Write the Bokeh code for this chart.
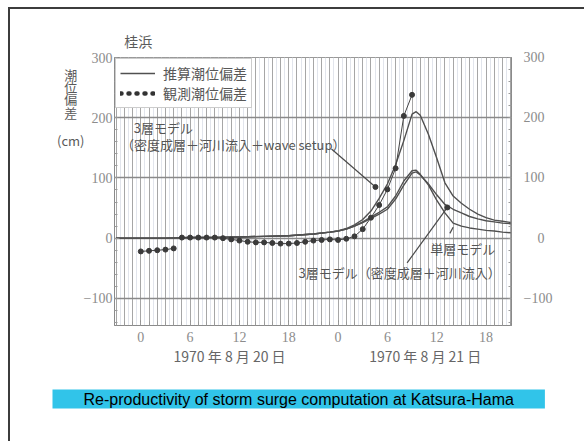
import numpy as np
from bokeh.plotting import figure
from bokeh.models import (FixedTicker, Label, Legend, LegendItem, LinearAxis,
                          Range1d, Title)
from bokeh.embed import file_html
from bokeh.resources import INLINE

# ---------------- data ----------------
# computed (common part before the surge), hour of 1970-08-20 (24 = 0h of 08-21)
hours_base = [-3, 0, 3, 6, 9, 12, 15, 18, 21, 23]
base_vals = [0, 0, 0, 1, 1, 2, 3, 4, 7, 10]

hours_peak = [24, 25, 26, 27, 28, 29, 30, 31, 32, 33, 33.5, 34, 35, 36, 37, 38,
              39, 40, 41, 42, 43, 44, 45]
wave_setup = [12, 16, 22, 31, 45, 66, 90, 122, 162, 206, 210, 204, 172, 133, 92,
              70, 58, 48, 40, 34, 30, 28, 26]
three_layer = [12, 15, 20, 26, 33, 40, 48, 65, 88, 108, 110, 105, 90, 72, 56, 48,
               42, 36, 32, 29, 27, 25, 24]
single_layer = [12, 15, 20, 27, 35, 43, 52, 70, 95, 112, 113, 106, 88, 63, 42, 25,
                20, 17, 15, 13, 12, 10, 9]

obs_hours = list(range(0, 34))
obs_vals = [-22, -21, -20, -19, -17,
            1, 1, 1, 1, 1, 0, -2, -4, -6, -7, -7, -8, -9, -9, -8, -6, -4, -3, -2,
            -3, -1, 3, 15, 34, 55, 81, 116, 203, 238]

x_tick_pos = [0, 6, 12, 18, 24, 30, 36, 42]
x_tick_txt = ["0", "6", "12", "18", "0", "6", "12", "18"]
y_ticks = [-100, 0, 100, 200, 300]
date_pos = [10.8, 34.6]
date_txt = ["1970 年 8 月 20 日", "1970 年 8 月 21 日"]
caption = "Re-productivity of storm surge computation at Katsura-Hama"

# annotation anchors (hour, cm)
lead1 = ([23.2, 28.55], [148, 85])
lead2 = ([32.4, 37.3], [-41, 51])
lead3 = ([37.6, 38.0], [8, 18])

GRAY_TXT = "#555555"
LINE_C = "#505050"
JP = "Noto Sans CJK JP"
FRAME = "#3c3c3c"

p = figure(width=584, height=441, x_range=Range1d(-3.2, 45.1),
           y_range=Range1d(-145, 300), output_backend="svg",
           toolbar_location=None, min_border_left=114, min_border_right=73,
           min_border_top=57, min_border_bottom=116)
p.background_fill_color = "white"
p.border_fill_color = None
p.outline_line_color = "#999999"
p.styles = {
    "background-image": f"linear-gradient({FRAME}, {FRAME}), linear-gradient({FRAME}, {FRAME})",
    "background-size": "576px 2px, 2px 434px",
    "background-position": "8px 7px, 8px 7px",
    "background-repeat": "no-repeat",
}

# grids
all_hours = list(range(-3, 46))
p.xgrid[0].ticker = FixedTicker(ticks=all_hours,
                                minor_ticks=[h + 0.5 for h in all_hours])
p.xgrid.grid_line_color = "#a6a6a6"
p.xgrid.grid_line_width = 1
p.xgrid.minor_grid_line_color = "#e2e5ec"
p.ygrid[0].ticker = FixedTicker(ticks=y_ticks)
p.ygrid.grid_line_color = "#8a8a8a"
p.ygrid.grid_line_width = 1.3

# axes
def style_axis(ax):
    ax.axis_line_color = "#8a8a8a"
    ax.major_tick_line_color = "#8a8a8a"
    ax.minor_tick_line_color = "#9a9a9a"
    ax.major_label_text_font = "Liberation Serif"
    ax.major_label_text_font_size = "14px"
    ax.major_label_text_color = "#8c8c8c"
    ax.major_tick_out = 0
    ax.minor_tick_out = 0

def text_axis(ax, size, color=GRAY_TXT):
    ax.axis_line_color = None
    ax.major_tick_line_color = None
    ax.minor_tick_line_color = None
    ax.major_label_text_font = JP
    ax.major_label_text_font_size = size
    ax.major_label_text_color = color

xa = p.xaxis[0]
xa.ticker = FixedTicker(ticks=x_tick_pos, minor_ticks=all_hours)
xa.major_label_overrides = {k: v for k, v in zip(x_tick_pos, x_tick_txt)}
style_axis(xa)
xa.major_tick_in = 5
xa.minor_tick_in = 4
xa.major_label_standoff = 6

ya = p.yaxis[0]
ya.ticker = FixedTicker(ticks=y_ticks, minor_ticks=list(range(-140, 301, 20)))
style_axis(ya)
ya.major_tick_in = 5
ya.minor_tick_in = 3
ya.major_label_standoff = 2

yr = LinearAxis(ticker=FixedTicker(ticks=y_ticks,
                                   minor_ticks=list(range(-140, 301, 20))))
style_axis(yr)
yr.major_tick_in = 5
yr.minor_tick_in = 3
yr.major_label_standoff = 12
yr.major_label_overrides = {0: "\u2007\u20070"}
p.add_layout(yr, "right")

# date labels as a second bottom axis
xd = LinearAxis(ticker=FixedTicker(ticks=date_pos),
                major_label_overrides={k: v for k, v in zip(date_pos, date_txt)})
text_axis(xd, "14px", "#666666")
xd.major_label_standoff = -5
p.add_layout(xd, "below")

# station name as a top axis
station_pos = [-0.3]
xt = LinearAxis(ticker=FixedTicker(ticks=station_pos),
                major_label_overrides={station_pos[0]: "桂浜"})
text_axis(xt, "14px", "#5a5a5a")
xt.major_label_standoff = 1
p.add_layout(xt, "above")

# y label (vertical characters + unit) as a second left axis
ylab_pos = [272.6, 251.8, 231.1, 209.5, 162.2]
ylab_txt = ["潮\u2007", "位\u2007", "偏\u2007", "差\u2007", "(cm)"]
yl = LinearAxis(ticker=FixedTicker(ticks=ylab_pos),
                major_label_overrides={k: v for k, v in zip(ylab_pos, ylab_txt)})
text_axis(yl, "13px", "#5a5a5a")
yl.major_label_standoff = -10
p.add_layout(yl, "left")

# computed curves
r_lines = []
for vals in (wave_setup, three_layer, single_layer):
    r_lines.append(p.line(hours_base + hours_peak, base_vals + vals,
                          line_color=LINE_C, line_width=1.4))

# observed
p.line(obs_hours[:5], obs_vals[:5], line_color="#444444", line_width=1)
p.line(obs_hours[5:], obs_vals[5:], line_color="#444444", line_width=1)
p.scatter(obs_hours, obs_vals, size=5, color="#3a3a3a")

# leader lines
for lx, ly in (lead1, lead2, lead3):
    p.line(lx, ly, line_color="#4a4a4a", line_width=1.2)
p.scatter([lead1[0][1], lead2[0][1]], [lead1[1][1], lead2[1][1]], size=5,
          color="#3a3a3a")

# legend (dotted sample for the observed series)
nan2 = [np.nan, np.nan]
r_obs = p.line(nan2, nan2, line_color="#333333", line_width=4.5,
               line_dash="1 7", line_cap="round")
legend = Legend(items=[LegendItem(label="推算潮位偏差", renderers=[r_lines[0]]),
                       LegendItem(label="観測潮位偏差", renderers=[r_obs])],
                location="top_left", margin=1, padding=4, spacing=0,
                glyph_width=35, glyph_height=14, label_height=14,
                label_standoff=8, label_text_font=JP,
                label_text_font_size="14px", label_text_color="#585858",
                border_line_color="#9a9a9a", background_fill_color="white",
                background_fill_alpha=1)
p.add_layout(legend)

# in-plot texts
def dlabel(x, y, t, size="13px"):
    p.add_layout(Label(x=x, y=y, text=t, text_font=JP, text_font_size=size,
                       text_color=GRAY_TXT, text_baseline="middle",
                       text_align="left"))

dlabel(-0.85, 183, "3層モデル")
dlabel(-2.4, 156, "（密度成層＋河川流入＋wave setup）")
dlabel(35.2, -17.5, "単層モデル")
dlabel(19.2, -57, "3層モデル（密度成層＋河川流入）", "13px")

# caption strip as a bottom title with a cyan box
p.add_layout(Title(text=caption, text_font="Liberation Sans",
                   text_font_size="16px", text_font_style="normal",
                   text_color="black", background_fill_color="#31c4e9",
                   align="left", offset=-62, standoff=38, padding=(31, 1)),
             "below")

open("out.html", "w").write(file_html(p, INLINE))
